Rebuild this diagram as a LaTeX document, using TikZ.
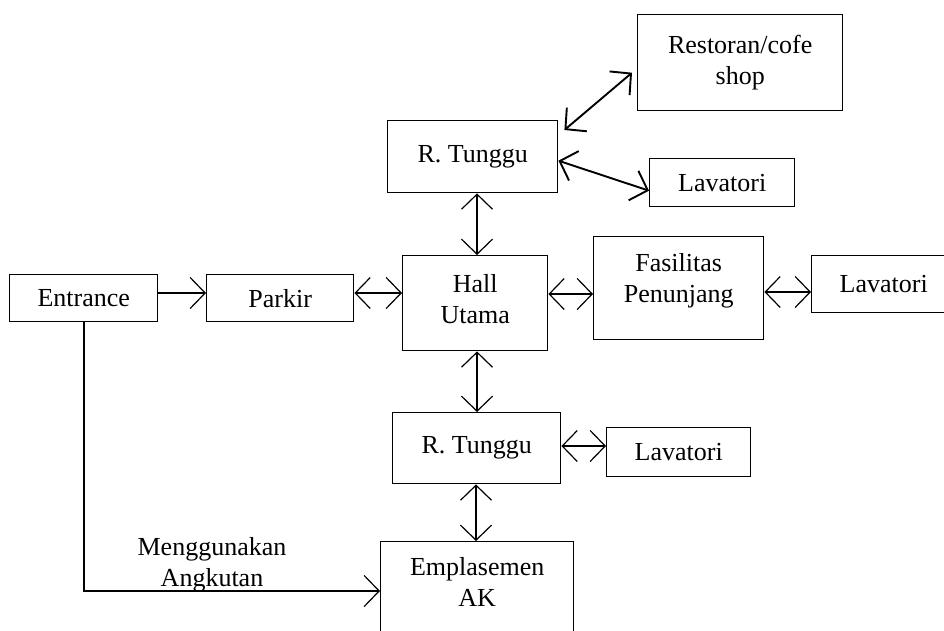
\documentclass[tikz,border=0pt]{standalone}
\usepackage{fontspec}
\setmainfont{Liberation Serif}
\usetikzlibrary{arrows.meta}
\begin{document}
\begin{tikzpicture}[x=1pt,y=-1pt,
  txt/.style={font=\fontsize{26}{31}\selectfont},
  box/.style={draw, line width=1.4pt, rectangle, anchor=north west, inner sep=0pt, align=center, txt},
  lbl/.style={align=center, inner sep=0pt, txt},
  tip/.tip={Straight Barb[length=15pt,width=31pt]},
  con/.style={line width=1.2pt, tip-tip},
  one/.style={line width=1.2pt, -tip},
  thick con/.style={line width=1.9pt, tip-tip}
]
\useasboundingbox (0,0) rectangle (944,630);
\clip (0,0) rectangle (944,630);

\node[box, minimum width=205pt, minimum height=96pt] (rest) at (637,14) {Restoran/cofe\\shop};
\node[box, minimum width=170pt, minimum height=72pt] (rt1) at (387,120) {R. Tunggu};
\node[box, minimum width=145pt, minimum height=48pt] (lav1) at (649,158) {Lavatori};
\node[box, minimum width=145pt, minimum height=95pt] (hall) at (402,255) {};
\node[lbl] (halltxt) at ([yshift=4pt]hall.center) {Hall\\Utama};
\node[box, minimum width=170pt, minimum height=103pt] (fas) at (593,236) {};
\node[lbl] (fastxt) at ([yshift=7pt]fas.center) {Fasilitas\\Penunjang};
\node[box, minimum width=144pt, minimum height=57pt] (lav2) at (811,255) {Lavatori};
\node[box, minimum width=148pt, minimum height=47pt] (ent) at (9,274) {Entrance};
\node[box, minimum width=147pt, minimum height=47pt] (park) at (206,274) {Parkir};
\node[box, minimum width=168pt, minimum height=71pt] (rt2) at (392,412) {R. Tunggu};
\node[box, minimum width=144pt, minimum height=49pt] (lav3) at (606,427) {Lavatori};
\node[box, minimum width=193pt, minimum height=120pt] (emp) at (380,541) {};
\node[lbl, anchor=north] (emptxt) at ([yshift=-16pt]emp.north) {Emplasemen\\AK};
\node[lbl] (mg) at (212,565) {Menggunakan\\Angkutan};

\draw[one] (ent.east |- 0,293) -- (park.west |- 0,293);
\draw[con] (park.east |- 0,293) -- (hall.west |- 0,293);
\draw[con] (hall.east |- 0,294) -- (fas.west |- 0,294);
\draw[con] (fas.east |- 0,292) -- (lav2.west |- 0,292);
\draw[con] (rt1.south -| 477,0) -- (hall.north -| 477,0);
\draw[con] (hall.south -| 477,0) -- (rt2.north -| 477,0);
\draw[con] (rt2.south -| 476,0) -- (emp.north -| 476,0);
\draw[con] (rt2.east |- 0,446) -- (lav3.west |- 0,446);
\draw[thick con] ([shift={(6,10)}]rt1.north east) -- ([shift={(-5,10)}]rest.west);
\draw[thick con] ([shift={(0,4)}]rt1.east) -- ([shift={(0,8)}]lav1.west);
\draw[one] (ent.south -| 84,0) -- (84,591) -- (emp.west |- 0,591);
\end{tikzpicture}
\end{document}
